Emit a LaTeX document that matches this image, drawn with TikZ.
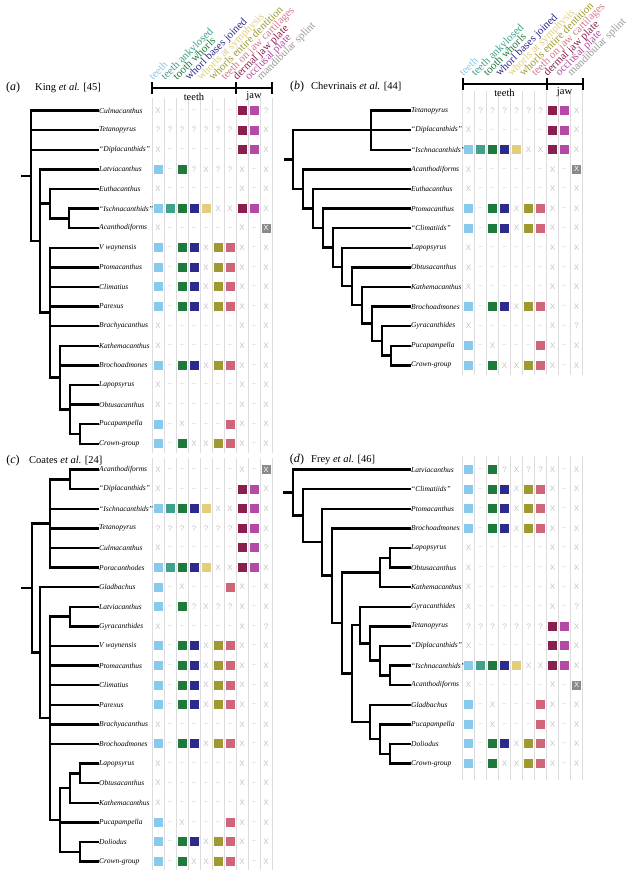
\documentclass[tikz,border=0pt]{standalone}
\usepackage{fontspec}
\setmainfont{Liberation Serif}
\newfontfamily\cellfont{Liberation Sans}
\usetikzlibrary{calc}
\definecolor{col0}{HTML}{88C9EE}
\definecolor{col1}{HTML}{40A08E}
\definecolor{col2}{HTML}{1E7A3C}
\definecolor{col3}{HTML}{2C2A8A}
\definecolor{col4}{HTML}{E3CF7B}
\definecolor{col5}{HTML}{9E9A31}
\definecolor{col6}{HTML}{D06478}
\definecolor{col7}{HTML}{8A1F4F}
\definecolor{col8}{HTML}{B449A6}
\definecolor{col9}{HTML}{8A8A8A}
\definecolor{hcol0}{HTML}{88C9EE}
\definecolor{hcol1}{HTML}{40A08E}
\definecolor{hcol2}{HTML}{1E7A3C}
\definecolor{hcol3}{HTML}{2C2A8A}
\definecolor{hcol4}{HTML}{E3CF7B}
\definecolor{hcol5}{HTML}{9E9A31}
\definecolor{hcol6}{HTML}{D87A8C}
\definecolor{hcol7}{HTML}{8A1F4F}
\definecolor{hcol8}{HTML}{B449A6}
\definecolor{hcol9}{HTML}{9A9A9A}
\definecolor{xgrey}{HTML}{C4C4C4}
\definecolor{gridgrey}{HTML}{DCDCDC}
\def\rAbs{X,D,D,D,D,D,D,X,D,X}
\def\rClim{F,D,F,F,X,F,F,X,D,X}
\def\rIsch{F,F,F,F,F,X,X,F,F,X}
\def\rDipl{X,D,D,D,D,D,D,F,F,X}
\def\rTet{Q,Q,Q,Q,Q,Q,Q,F,F,X}
\def\rCulm{X,D,D,D,D,D,D,F,F,Q}
\def\rLatv{F,D,F,Q,X,Q,Q,X,D,X}
\def\rAcan{X,D,D,D,D,D,D,X,D,S}
\def\rPuca{F,D,X,D,D,D,F,X,D,X}
\def\rCrown{F,D,F,X,X,F,F,X,D,X}
\def\rGyra{X,D,D,D,D,D,D,X,D,Q}
\newcommand\cellnodeF[4]{\node[sqbox, fill=#4] (#1) at (#2,#3) {};}
\newcommand\cellnodeX[4]{\node[cxtext] (#1) at (#2,#3) {X};}
\newcommand\cellnodeD[4]{\node[cxtext, font=\cellfont\fontsize{6.5}{6.5}\selectfont] (#1) at (#2,#3) {–};}
\newcommand\cellnodeQ[4]{\node[cxtext] (#1) at (#2,#3) {?};}
\newcommand\cellnodeS[4]{\node[sqbox, fill=col9, text=white, font=\cellfont\fontsize{7.5}{7.5}\selectfont] (#1) at (#2,#3) {X};}
\newcommand\mkleaf[6]{%
  \node[taxon] (#1) at (#2,#4) {#5};
  \foreach \cc [count=\ii from 0] in #6 {%
    \pgfmathsetmacro\cxx{#3+12*\ii}%
    \csname cellnode\cc\endcsname{#1-\ii}{\cxx}{#4}{col\ii}%
  }%
}
\newcommand\mkclade[4]{\path let \p1=(#3), \p2=(#4) in (#2pt,{0.5*(\y1+\y2)}) coordinate (#1);}
\newcommand\mkkids[2]{\foreach \kk in {#2} {\draw[tree] (#1) |- (\kk);}}
\newcommand\mkheads[3]{%
  \foreach \lab [count=\ii from 0] in {teeth,teeth ankylosed,tooth whorls,whorl bases joined,whorls at symphysis,whorls entire dentition,teeth on jaw cartilages,dermal jaw plate,occlusal plate,mandibular splint} {%
    \pgfmathsetmacro\hxx{#2+12*\ii}%
    \node[hdrot, text=hcol\ii] (#1-h\ii) at (\hxx,#3) {\lab};
  }%
}
\begin{document}
\begin{tikzpicture}[x=1pt,y=-1pt,
  tree/.style={line width=2.4pt, line cap=rect, line join=miter},
  taxon/.style={anchor=west, inner sep=1pt, font=\fontsize{7.5}{8}\selectfont\itshape},
  gridline/.style={draw=gridgrey, line width=0.6pt},
  brk/.style={line width=2pt},
  hd/.style={font=\fontsize{10.5}{11}\selectfont, inner sep=0},
  hdrot/.style={font=\fontsize{11}{12}\selectfont, rotate=45, anchor=base west, inner sep=0},
  ttl/.style={font=\fontsize{10.5}{12}\selectfont, anchor=west, inner sep=0},
  plab/.style={font=\fontsize{12}{13}\selectfont, inner sep=0},
  sqbox/.style={minimum size=9pt, inner sep=0, draw=none},
  cxtext/.style={text=xgrey, font=\cellfont\fontsize{8}{8}\selectfont, inner sep=0}]
\useasboundingbox[fill=white] (0,0) rectangle (640,870);

% ---------------- grids ----------------
\foreach \j in {0,...,10} {
  \draw[gridline] ({152+12*\j},98) -- ({152+12*\j},453);
  \draw[gridline] ({462.5+12*\j},91) -- ({462.5+12*\j},375);
  \draw[gridline] ({152+12*\j},458) -- ({152+12*\j},870);
  \draw[gridline] ({462.5+12*\j},456) -- ({462.5+12*\j},780);
}

% ---------------- headers ----------------
\node[plab] (a-lab) at (13,88) {(\textit{a})};
\node[ttl] (a-ttl) at (35,88) {King \textit{et al.} [45]};
\node[plab] (b-lab) at (297,87) {(\textit{b})};
\node[ttl] (b-ttl) at (311,87) {Chevrinais \textit{et al.} [44]};
\node[plab] (c-lab) at (13,461) {(\textit{c})};
\node[ttl] (c-ttl) at (29,461) {Coates \textit{et al.} [24]};
\node[plab] (d-lab) at (297,460) {(\textit{d})};
\node[ttl] (d-ttl) at (311,460) {Frey \textit{et al.} [46]};

\draw[brk] (152,88) -- (272,88);
\foreach \bx in {152,236,272} \draw[brk] (\bx,82) -- (\bx,94);
\node[hd] (a-teeth) at (194,96.5) {teeth};
\node[hd] (a-jaw) at (254,96.5) {jaw};
\draw[brk] (462.5,84) -- (582.5,84);
\foreach \bx in {462.5,546.5,582.5} \draw[brk] (\bx,78) -- (\bx,90);
\node[hd] (b-teeth) at (504.5,92.5) {teeth};
\node[hd] (b-jaw) at (564.5,92.5) {jaw};
\mkheads{a}{153}{81}
\mkheads{b}{463.5}{77}

% ---------------- panel (a) ----------------
\mkleaf{a-cul}{98}{158}{110.5}{Culmacanthus}{\rCulm}
\mkleaf{a-tet}{98}{158}{130.1}{Tetanopyrus}{\rTet}
\mkleaf{a-dip}{98}{158}{149.7}{“Diplacanthids”}{\rDipl}
\mkleaf{a-lat}{98}{158}{169.3}{Latviacanthus}{\rLatv}
\mkleaf{a-eut}{98}{158}{188.9}{Euthacanthus}{\rAbs}
\mkleaf{a-isc}{98}{158}{208.5}{“Ischnacanthids”}{\rIsch}
\mkleaf{a-aca}{98}{158}{228.1}{Acanthodiforms}{\rAcan}
\mkleaf{a-vwa}{98}{158}{247.7}{V waynensis}{\rClim}
\mkleaf{a-pto}{98}{158}{267.3}{Ptomacanthus}{\rClim}
\mkleaf{a-cli}{98}{158}{286.9}{Climatius}{\rClim}
\mkleaf{a-par}{98}{158}{306.5}{Parexus}{\rClim}
\mkleaf{a-bra}{98}{158}{326.1}{Brachyacanthus}{\rAbs}
\mkleaf{a-kat}{98}{158}{345.7}{Kathemacanthus}{\rAbs}
\mkleaf{a-bro}{98}{158}{365.3}{Brochoadmones}{\rClim}
\mkleaf{a-lap}{98}{158}{384.9}{Lapopsyrus}{\rAbs}
\mkleaf{a-obt}{98}{158}{404.5}{Obtusacanthus}{\rAbs}
\mkleaf{a-puc}{98}{158}{424.1}{Pucapampella}{\rPuca}
\mkleaf{a-cro}{98}{158}{443.7}{Crown-group}{\rCrown}

\mkclade{a80}{80}{a-puc}{a-cro}
\mkclade{a70}{70}{a-lap}{a80}
\mkclade{a60}{60}{a-kat}{a70}
\mkclade{a50}{50}{a-vwa}{a60}
\mkclade{a69}{69}{a-isc}{a-aca}
\mkclade{a50e}{50}{a-eut}{a69}
\mkclade{a40}{40}{a-lat}{a50}
\mkclade{a31}{31}{a-cul}{a40}
\mkkids{a80}{a-puc.west,a-cro.west}
\mkkids{a70}{a-lap.west,a-obt.west,a80}
\mkkids{a60}{a-kat.west,a-bro.west,a70}
\mkkids{a50}{a-vwa.west,a-pto.west,a-cli.west,a-par.west,a-bra.west,a60}
\mkkids{a69}{a-isc.west,a-aca.west}
\mkkids{a50e}{a-eut.west,a69}
\mkkids{a40}{a-lat.west,a50e,a50}
\mkkids{a31}{a-cul.west,a-tet.west,a-dip.west,a40}
\coordinate (a-root) at ($(a31)+(-9,0)$);
\draw[tree] (a31) -- (a-root);

% ---------------- panel (b) ----------------
\mkleaf{b-tet}{410}{468.5}{110.5}{Tetanopyrus}{\rTet}
\mkleaf{b-dip}{410}{468.5}{130.1}{“Diplacanthids”}{\rDipl}
\mkleaf{b-isc}{410}{468.5}{149.7}{“Ischnacanthids”}{\rIsch}
\mkleaf{b-aca}{410}{468.5}{169.3}{Acanthodiforms}{\rAcan}
\mkleaf{b-eut}{410}{468.5}{188.9}{Euthacanthus}{\rAbs}
\mkleaf{b-pto}{410}{468.5}{208.5}{Ptomacanthus}{\rClim}
\mkleaf{b-cli}{410}{468.5}{228.1}{“Climatiids”}{\rClim}
\mkleaf{b-lap}{410}{468.5}{247.7}{Lapopsyrus}{\rAbs}
\mkleaf{b-obt}{410}{468.5}{267.3}{Obtusacanthus}{\rAbs}
\mkleaf{b-kat}{410}{468.5}{286.9}{Kathemacanthus}{\rAbs}
\mkleaf{b-bro}{410}{468.5}{306.5}{Brochoadmones}{\rClim}
\mkleaf{b-gyr}{410}{468.5}{326.1}{Gyracanthides}{\rGyra}
\mkleaf{b-puc}{410}{468.5}{345.7}{Pucapampella}{\rPuca}
\mkleaf{b-cro}{410}{468.5}{365.3}{Crown-group}{\rCrown}

\mkclade{bK}{391}{b-puc}{b-cro}
\mkclade{bJ}{381.7}{b-gyr}{bK}
\mkclade{bI}{371.7}{b-bro}{bJ}
\mkclade{bH}{361.7}{b-kat}{bI}
\mkclade{bG}{351.7}{b-obt}{bH}
\mkclade{bF}{341.7}{b-lap}{bG}
\mkclade{bE}{332.7}{b-cli}{bF}
\mkclade{bD}{322.7}{b-pto}{bE}
\mkclade{bC}{313}{b-eut}{bD}
\mkclade{bB}{303}{b-aca}{bC}
\mkclade{bT}{370.7}{b-tet}{b-isc}
\mkclade{bA}{293}{bT}{bB}
\mkkids{bK}{b-puc.west,b-cro.west}
\mkkids{bJ}{b-gyr.west,bK}
\mkkids{bI}{b-bro.west,bJ}
\mkkids{bH}{b-kat.west,bI}
\mkkids{bG}{b-obt.west,bH}
\mkkids{bF}{b-lap.west,bG}
\mkkids{bE}{b-cli.west,bF}
\mkkids{bD}{b-pto.west,bE}
\mkkids{bC}{b-eut.west,bD}
\mkkids{bB}{b-aca.west,bC}
\mkkids{bT}{b-tet.west,b-dip.west,b-isc.west}
\mkkids{bA}{bT,bB}
\coordinate (b-root) at ($(bA)+(-8,0)$);
\draw[tree] (bA) -- (b-root);

% ---------------- panel (c) ----------------
\mkleaf{c-aca}{98}{158}{469.5}{Acanthodiforms}{\rAcan}
\mkleaf{c-dip}{98}{158}{489.1}{“Diplacanthids”}{\rDipl}
\mkleaf{c-isc}{98}{158}{508.7}{“Ischnacanthids”}{\rIsch}
\mkleaf{c-tet}{98}{158}{528.3}{Tetanopyrus}{\rTet}
\mkleaf{c-cul}{98}{158}{547.9}{Culmacanthus}{\rCulm}
\mkleaf{c-por}{98}{158}{567.5}{Poracanthodes}{\rIsch}
\mkleaf{c-gla}{98}{158}{587.1}{Gladbachus}{\rPuca}
\mkleaf{c-lat}{98}{158}{606.7}{Latviacanthus}{\rLatv}
\mkleaf{c-gyr}{98}{158}{626.3}{Gyracanthides}{\rGyra}
\mkleaf{c-vwa}{98}{158}{645.9}{V waynensis}{\rClim}
\mkleaf{c-pto}{98}{158}{665.5}{Ptomacanthus}{\rClim}
\mkleaf{c-cli}{98}{158}{685.1}{Climatius}{\rClim}
\mkleaf{c-par}{98}{158}{704.7}{Parexus}{\rClim}
\mkleaf{c-bra}{98}{158}{724.3}{Brachyacanthus}{\rAbs}
\mkleaf{c-bro}{98}{158}{743.9}{Brochoadmones}{\rClim}
\mkleaf{c-lap}{98}{158}{763.5}{Lapopsyrus}{\rAbs}
\mkleaf{c-obt}{98}{158}{783.1}{Obtusacanthus}{\rAbs}
\mkleaf{c-kat}{98}{158}{802.7}{Kathemacanthus}{\rAbs}
\mkleaf{c-puc}{98}{158}{822.3}{Pucapampella}{\rPuca}
\mkleaf{c-dol}{98}{158}{841.9}{Doliodus}{\rClim}
\mkleaf{c-cro}{98}{158}{861.5}{Crown-group}{\rCrown}

\mkclade{cLO}{80}{c-lap}{c-obt}
\mkclade{cLOK}{70}{cLO}{c-kat}
\mkclade{cDC}{80}{c-dol}{c-cro}
\mkclade{cP}{60}{cLOK}{cDC}
\mkclade{cLG}{70}{c-lat}{c-gyr}
\mkclade{cB}{50}{cLG}{cP}
\mkclade{cG}{40}{c-gla}{cB}
\mkclade{cAD}{70}{c-aca}{c-dip}
\mkclade{cX}{50}{cAD}{c-por}
\mkclade{cR}{31.7}{cX}{cG}
\mkkids{cLO}{c-lap.west,c-obt.west}
\mkkids{cLOK}{cLO,c-kat.west}
\mkkids{cDC}{c-dol.west,c-cro.west}
\mkkids{cP}{cLOK,c-puc.west,cDC}
\mkkids{cLG}{c-lat.west,c-gyr.west}
\mkkids{cB}{cLG,c-vwa.west,c-pto.west,c-cli.west,c-par.west,c-bra.west,c-bro.west,cP}
\mkkids{cG}{c-gla.west,cB}
\mkkids{cAD}{c-aca.west,c-dip.west}
\mkkids{cX}{cAD,c-isc.west,c-tet.west,c-cul.west,c-por.west}
\mkkids{cR}{cX,cG}
\coordinate (c-root) at ($(cR)+(-9.5,0)$);
\draw[tree] (cR) -- (c-root);

% ---------------- panel (d) ----------------
\mkleaf{d-lat}{410}{468.5}{469.5}{Latviacanthus}{\rLatv}
\mkleaf{d-cli}{410}{468.5}{489.1}{“Climatiids”}{\rClim}
\mkleaf{d-pto}{410}{468.5}{508.7}{Ptomacanthus}{\rClim}
\mkleaf{d-bro}{410}{468.5}{528.3}{Brochoadmones}{\rClim}
\mkleaf{d-lap}{410}{468.5}{547.9}{Lapopsyrus}{\rAbs}
\mkleaf{d-obt}{410}{468.5}{567.5}{Obtusacanthus}{\rAbs}
\mkleaf{d-kat}{410}{468.5}{587.1}{Kathemacanthus}{\rAbs}
\mkleaf{d-gyr}{410}{468.5}{606.7}{Gyracanthides}{\rGyra}
\mkleaf{d-tet}{410}{468.5}{626.3}{Tetanopyrus}{\rTet}
\mkleaf{d-dip}{410}{468.5}{645.9}{“Diplacanthids”}{\rDipl}
\mkleaf{d-isc}{410}{468.5}{665.5}{“Ischnacanthids”}{\rIsch}
\mkleaf{d-aca}{410}{468.5}{685.1}{Acanthodiforms}{\rAcan}
\mkleaf{d-gla}{410}{468.5}{704.7}{Gladbachus}{\rPuca}
\mkleaf{d-puc}{410}{468.5}{724.3}{Pucapampella}{\rPuca}
\mkleaf{d-dol}{410}{468.5}{743.9}{Doliodus}{\rClim}
\mkleaf{d-cro}{410}{468.5}{763.5}{Crown-group}{\rCrown}

\mkclade{dDC}{390}{d-dol}{d-cro}
\mkclade{dP}{380}{d-puc}{dDC}
\mkclade{dG}{370}{d-gla}{dP}
\mkclade{dIA}{390}{d-isc}{d-aca}
\mkclade{dDi}{380}{d-dip}{dIA}
\mkclade{dT}{370}{d-tet}{dDi}
\mkclade{dGT}{360}{d-gyr}{dT}
\mkclade{dS}{351.7}{dGT}{dG}
\mkclade{dLO}{390}{d-lap}{d-obt}
\mkclade{dLOK}{380}{dLO}{d-kat}
\mkclade{dN}{341.7}{dLOK}{dS}
\mkclade{dBr}{331.7}{d-bro}{dN}
\mkclade{dPt}{321.7}{d-pto}{dBr}
\mkclade{dC}{303}{d-cli}{dPt}
\mkclade{dR}{293}{d-lat}{dC}
\mkkids{dDC}{d-dol.west,d-cro.west}
\mkkids{dP}{d-puc.west,dDC}
\mkkids{dG}{d-gla.west,dP}
\mkkids{dIA}{d-isc.west,d-aca.west}
\mkkids{dDi}{d-dip.west,dIA}
\mkkids{dT}{d-tet.west,dDi}
\mkkids{dGT}{d-gyr.west,dT}
\mkkids{dS}{dGT,dG}
\mkkids{dLO}{d-lap.west,d-obt.west}
\mkkids{dLOK}{dLO,d-kat.west}
\mkkids{dN}{dLOK,dS}
\mkkids{dBr}{d-bro.west,dN}
\mkkids{dPt}{d-pto.west,dBr}
\mkkids{dC}{d-cli.west,dPt}
\mkkids{dR}{d-lat.west,dC}
\coordinate (d-root) at ($(dR)+(-9,0)$);
\draw[tree] (dR) -- (d-root);
\end{tikzpicture}
\end{document}
